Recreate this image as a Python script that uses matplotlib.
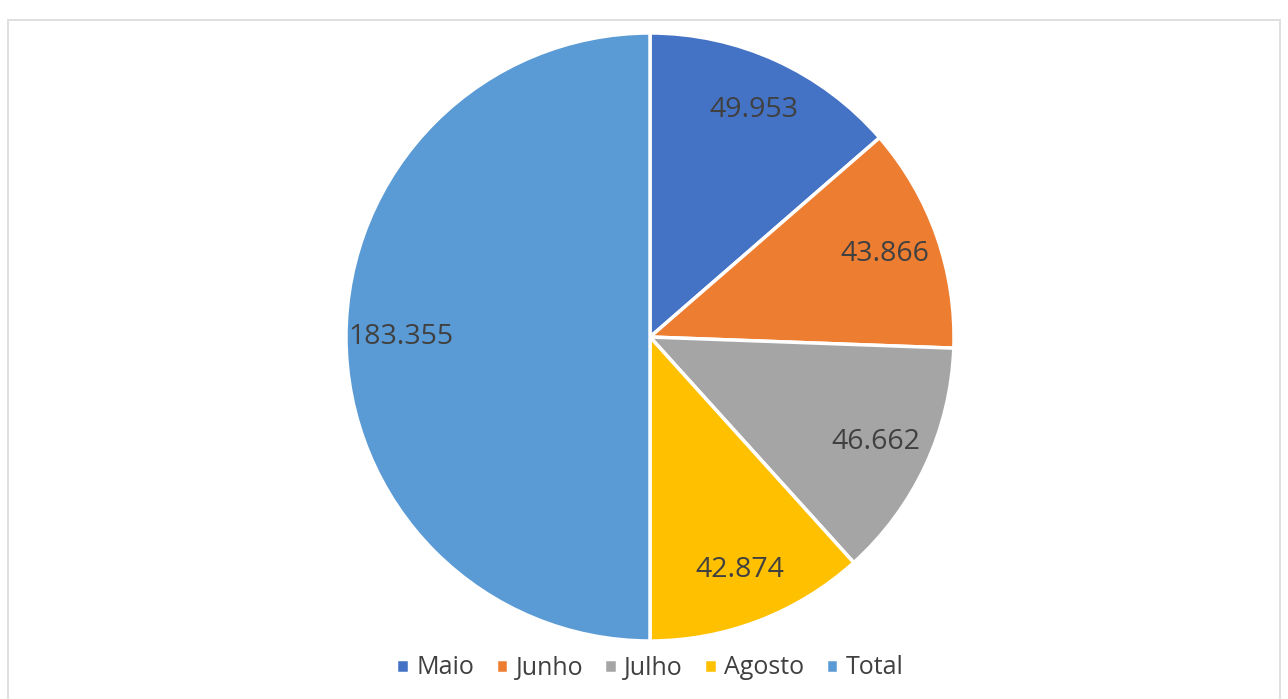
''' pie chart of monthly values with the total as its own slice '''

import matplotlib.pyplot as plt
from matplotlib.patches import Rectangle

months = ['Maio', 'Junho', 'Julho', 'Agosto', 'Total']
values = [49.953, 43.866, 46.662, 42.874, 183.355]
labels = ['49.953', '43.866', '46.662', '42.874', '183.355']
colors = ['#4472C4', '#ED7D31', '#A5A5A5', '#FFC000', '#5B9BD5']

plt.rcParams['font.family'] = ['Open Sans', 'DejaVu Sans']

fig = plt.figure(figsize=(12.88, 6.99), dpi=100)

# chart area border
fig.patches.append(Rectangle((8 / 1288, -0.01), 1272 / 1288, 1 - 20 / 699 + 0.01,
                             transform=fig.transFigure, fill=False,
                             edgecolor='#D9D9D9', linewidth=1.2))

# pie: centre ~ (650, 337) px, radius ~ 304 px
r = 304
ax = fig.add_axes([(650 - r) / 1288, 1 - (337 + r) / 699, 2 * r / 1288, 2 * r / 699])
wedges, texts = ax.pie(values, colors=colors, startangle=90, counterclock=False,
                       labels=labels, labeldistance=0.82, radius=1,
                       wedgeprops=dict(edgecolor='white', linewidth=2.5),
                       textprops=dict(fontsize=20.5, color='#404040'))
for t in texts:
    t.set_ha('center')
    t.set_va('center')
ax.set_xlim(-1, 1)
ax.set_ylim(-1, 1)
ax.set_aspect('equal')

# legend below the pie
fig.legend(wedges, months, loc='center', bbox_to_anchor=(650 / 1288, 1 - 668 / 699),
           ncol=5, frameon=False, fontsize=18, labelcolor='#404040',
           handlelength=0.5, handleheight=0.5, handletextpad=0.3, columnspacing=0.85)

fig.savefig('out.png', dpi=100)
